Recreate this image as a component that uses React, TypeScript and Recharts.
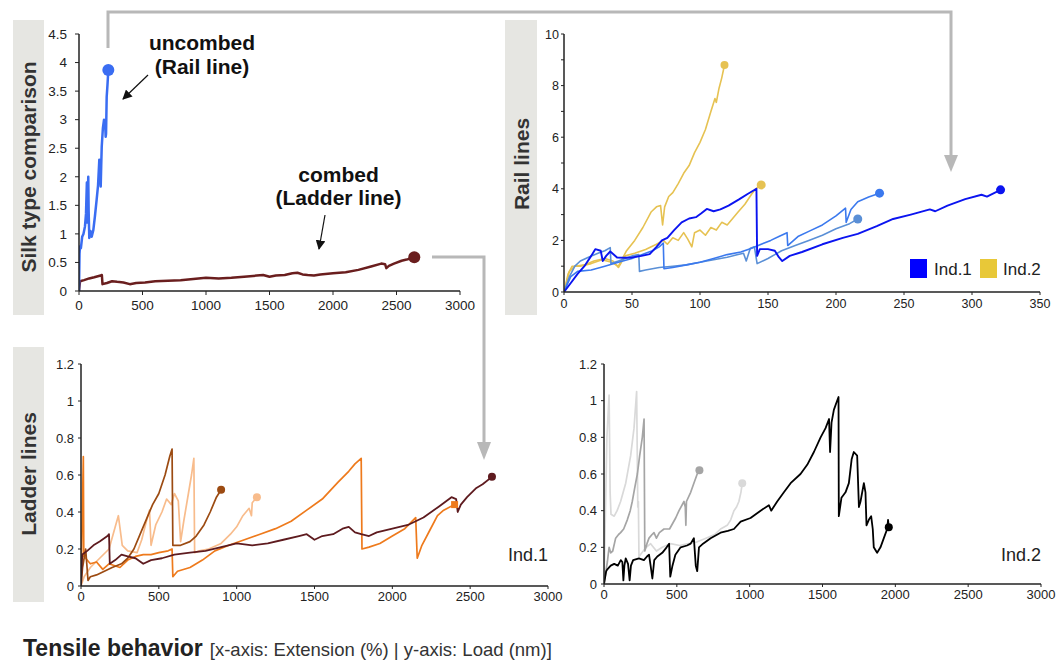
import React from 'react';
import { LineChart, Line, XAxis, YAxis } from 'recharts';

const FONT = '"Liberation Sans", Arial, Helvetica, sans-serif';

type Pt = [number, number];

// ---------- Panel 1: silk type comparison ----------
const silkXTicks = [0, 500, 1000, 1500, 2000, 2500, 3000];
const silkYTicks = [0, 0.5, 1, 1.5, 2, 2.5, 3, 3.5, 4, 4.5];
const uncombedRail: Pt[] = [
  [0, 0], [4, 0.65], [8, 0.78], [15, 0.75], [25, 0.95], [35, 1.0], [47, 1.13], [55, 1.35], [62, 1.9],
  [64, 1.2], [68, 1.5], [73, 2.0], [76, 1.4], [81, 0.93], [90, 1.05], [100, 0.95], [113, 1.07],
  [125, 1.3], [139, 1.6], [150, 1.85], [160, 2.3], [166, 2.1], [171, 1.83], [175, 2.2], [179, 2.53],
  [188, 2.85], [197, 3.0], [205, 2.95], [210, 2.7], [213, 2.75], [218, 3.4], [224, 3.6], [231, 3.87],
];

// ---------- Ladder lines Ind.1 (also "combed" in panel 1) ----------
const ladderXTicks = [0, 500, 1000, 1500, 2000, 2500, 3000];
const ladderYTicks = [0, 0.2, 0.4, 0.6, 0.8, 1, 1.2];
const ladderMaroon: Pt[] = [
  [0, 0], [8, 0.17], [40, 0.19], [80, 0.22], [120, 0.24], [170, 0.27], [180, 0.28], [185, 0.12],
  [220, 0.14], [260, 0.17], [300, 0.16], [350, 0.15], [400, 0.12], [450, 0.14], [520, 0.15],
  [600, 0.17], [700, 0.18], [800, 0.19], [900, 0.21], [1000, 0.23], [1100, 0.22], [1200, 0.23],
  [1300, 0.25], [1400, 0.27], [1450, 0.28], [1500, 0.25], [1550, 0.27], [1620, 0.28], [1680, 0.31],
  [1720, 0.32], [1760, 0.29], [1800, 0.28], [1850, 0.27], [1900, 0.29], [2000, 0.31], [2100, 0.33],
  [2200, 0.37], [2300, 0.43], [2380, 0.48], [2410, 0.47], [2420, 0.4], [2440, 0.44], [2480, 0.48],
  [2540, 0.53], [2580, 0.55], [2640, 0.59],
];
const ladderBrown: Pt[] = [
  [0, 0], [10, 0.1], [30, 0.2], [45, 0.03], [60, 0.05], [100, 0.06], [150, 0.08], [200, 0.1],
  [260, 0.12], [300, 0.15], [340, 0.2], [380, 0.28], [420, 0.36], [460, 0.44], [500, 0.5],
  [540, 0.6], [570, 0.7], [585, 0.74], [590, 0.22], [640, 0.22], [700, 0.24], [740, 0.27],
  [790, 0.33], [830, 0.4], [870, 0.48], [900, 0.52],
];
const ladderPeach: Pt[] = [
  [0, 0], [20, 0.05], [60, 0.1], [120, 0.15], [180, 0.2], [220, 0.32], [240, 0.38], [265, 0.22],
  [300, 0.19], [360, 0.18], [390, 0.25], [420, 0.35], [440, 0.41], [450, 0.22], [480, 0.33],
  [520, 0.4], [550, 0.47], [580, 0.44], [600, 0.5], [625, 0.46], [640, 0.24], [660, 0.35],
  [690, 0.5], [710, 0.6], [725, 0.69], [730, 0.18], [760, 0.19], [820, 0.2], [900, 0.23],
  [960, 0.28], [1000, 0.32], [1040, 0.38], [1080, 0.42], [1095, 0.38], [1100, 0.45], [1130, 0.48],
];
const ladderOrange: Pt[] = [
  [0, 0], [15, 0.7], [18, 0.16], [30, 0.15], [60, 0.12], [100, 0.13], [140, 0.09], [180, 0.12],
  [250, 0.1], [300, 0.14], [350, 0.16], [400, 0.17], [450, 0.17], [500, 0.18], [560, 0.19],
  [585, 0.2], [590, 0.05], [620, 0.08], [700, 0.1], [780, 0.14], [860, 0.19], [950, 0.22],
  [1050, 0.25], [1150, 0.28], [1250, 0.31], [1350, 0.35], [1450, 0.41], [1550, 0.47], [1650, 0.56],
  [1720, 0.62], [1760, 0.66], [1800, 0.69], [1805, 0.2], [1850, 0.21], [1920, 0.23], [2000, 0.27],
  [2080, 0.31], [2150, 0.37], [2160, 0.15], [2190, 0.22], [2240, 0.3], [2290, 0.38], [2330, 0.41],
  [2400, 0.44],
];

// ---------- Ladder lines Ind.2 ----------
const ind2Black: Pt[] = [
  [0, 0], [15, 0.07], [23, 0.08], [46, 0.1], [70, 0.11], [95, 0.1], [115, 0.13], [126, 0.12],
  [133, 0.02], [140, 0.1], [149, 0.14], [165, 0.11], [176, 0.02], [185, 0.1], [200, 0.13],
  [240, 0.14], [274, 0.13], [295, 0.15], [309, 0.16], [320, 0.1], [332, 0.03], [345, 0.13],
  [366, 0.15], [400, 0.17], [430, 0.2], [447, 0.22], [455, 0.04], [470, 0.1], [490, 0.16],
  [526, 0.2], [570, 0.21], [595, 0.22], [617, 0.25], [630, 0.1], [640, 0.07], [652, 0.2],
  [680, 0.22], [732, 0.25], [800, 0.28], [850, 0.29], [892, 0.3], [938, 0.34], [1006, 0.36],
  [1075, 0.4], [1132, 0.43], [1148, 0.4], [1189, 0.45], [1235, 0.5], [1281, 0.55], [1349, 0.6],
  [1395, 0.65], [1441, 0.72], [1487, 0.8], [1521, 0.85], [1545, 0.9], [1552, 0.72], [1562, 0.88],
  [1578, 0.95], [1596, 0.99], [1610, 1.02], [1612, 0.37], [1630, 0.47], [1658, 0.5], [1681, 0.55],
  [1700, 0.68], [1715, 0.72], [1738, 0.7], [1750, 0.42], [1761, 0.45], [1784, 0.55], [1795, 0.5],
  [1802, 0.32], [1818, 0.35], [1834, 0.37], [1845, 0.3], [1852, 0.2], [1875, 0.17], [1898, 0.2],
  [1921, 0.25], [1944, 0.3], [1950, 0.35], [1955, 0.31],
];
const ind2Gray: Pt[] = [
  [0, 0], [15, 0.08], [23, 0.12], [35, 0.2], [46, 0.17], [60, 0.18], [80, 0.25], [100, 0.27],
  [114, 0.28], [135, 0.3], [160, 0.35], [180, 0.4], [194, 0.45], [210, 0.52], [229, 0.6],
  [245, 0.7], [263, 0.8], [275, 0.9], [280, 0.18], [295, 0.22], [309, 0.25], [330, 0.27],
  [343, 0.28], [360, 0.25], [380, 0.28], [412, 0.3], [450, 0.3], [492, 0.36], [515, 0.4],
  [549, 0.45], [558, 0.42], [562, 0.32], [566, 0.45], [595, 0.5], [617, 0.55], [640, 0.6],
  [655, 0.62],
];
const ind2Light: Pt[] = [
  [0, 0], [10, 0.4], [20, 0.8], [35, 1.03], [42, 0.5], [48, 0.38], [70, 0.37], [90, 0.4],
  [114, 0.45], [149, 0.55], [183, 0.7], [206, 0.85], [224, 1.05], [232, 0.42], [236, 0.45],
  [240, 0.15], [260, 0.17], [290, 0.2], [320, 0.22], [360, 0.18], [400, 0.2], [457, 0.22],
  [520, 0.21], [580, 0.22], [640, 0.23], [700, 0.25], [760, 0.27], [800, 0.3], [846, 0.32],
  [870, 0.35], [892, 0.4], [910, 0.42], [926, 0.45], [940, 0.5], [949, 0.55],
];

// ---------- Rail lines ----------
const railXTicks = [0, 50, 100, 150, 200, 250, 300, 350];
const railYTicks = [0, 1, 2, 3, 4, 5, 6, 7, 8, 9, 10];
const railYellowTall: Pt[] = [
  [0, 0], [3, 0.7], [6, 1.0], [12, 1.0], [20, 1.1], [28, 1.25], [35, 1.15], [40, 1.0], [43, 1.3],
  [46, 1.6], [52, 2.0], [58, 2.5], [64, 3.1], [68, 3.3], [71, 3.35], [72.5, 2.6], [74, 3.3],
  [77, 3.7], [80, 3.85], [84, 4.2], [88, 4.6], [92, 4.9], [96, 5.4], [100, 5.8], [104, 6.3],
  [108, 7.0], [111, 7.5], [112, 7.35], [114, 7.9], [116, 8.3], [118, 8.8],
];
const railYellowShort: Pt[] = [
  [0, 0], [4, 0.8], [8, 1.0], [15, 1.05], [22, 1.2], [30, 1.3], [36, 1.2], [40, 0.95], [45, 1.4],
  [52, 1.5], [60, 1.65], [68, 1.85], [73, 2.0], [76, 1.85], [80, 2.1], [84, 2.0], [88, 2.3],
  [91, 2.05], [94, 1.75], [96, 2.3], [100, 2.4], [104, 2.2], [108, 2.5], [112, 2.4], [116, 2.7],
  [120, 2.6], [124, 2.85], [128, 3.1], [133, 3.4], [138, 3.8], [141, 4.0], [145, 4.15],
];
const railSteel: Pt[] = [
  [0, 0], [4, 0.6], [8, 1.0], [12, 1.2], [18, 1.35], [25, 1.5], [30, 1.6], [34, 1.72], [34.5, 1.1],
  [40, 1.2], [45, 1.3], [50, 1.4], [55, 1.45], [55.5, 0.8], [60, 0.85], [65, 0.9], [70, 0.95],
  [80, 1.0], [90, 1.05], [100, 1.15], [110, 1.25], [120, 1.35], [128, 1.45], [132, 1.5], [134, 1.2],
  [137, 1.7], [140, 1.75], [142, 1.1], [150, 1.3], [155, 1.45], [160, 1.6], [170, 1.8], [180, 2.0],
  [190, 2.2], [200, 2.45], [210, 2.65], [216, 2.83],
];
const railMedium: Pt[] = [
  [0, 0], [5, 0.6], [10, 0.8], [20, 0.85], [30, 1.0], [40, 1.15], [50, 1.3], [60, 1.5], [65, 1.6],
  [70, 1.75], [73, 1.9], [73.5, 0.9], [80, 0.95], [90, 1.05], [100, 1.15], [110, 1.3], [120, 1.45],
  [130, 1.55], [138, 1.7], [145, 1.85], [152, 2.0], [158, 2.15], [164, 2.3], [164.5, 1.8],
  [172, 2.15], [180, 2.35], [190, 2.6], [200, 2.95], [207, 3.25], [207.5, 2.7], [211, 3.2],
  [216, 3.5], [224, 3.68], [232, 3.83],
];
const railDark: Pt[] = [
  [0, 0], [5, 0.35], [10, 0.7], [15, 1.0], [20, 1.4], [23, 1.66], [27, 1.6], [28.5, 1.2], [31, 1.4],
  [34, 1.57], [39, 1.34], [45, 1.33], [50, 1.34], [57, 1.4], [63, 1.47], [68, 1.75], [72, 2.0],
  [76, 2.1], [81, 2.4], [86.5, 2.7], [92, 2.85], [97, 2.9], [101, 3.05], [105, 3.22], [110, 3.13],
  [115, 3.2], [121, 3.35], [129, 3.6], [135, 3.8], [141.5, 4.0], [142, 1.4], [144, 1.66],
  [150, 1.66], [155, 1.6], [158, 1.35], [160.5, 1.2], [166, 1.4], [175, 1.55], [190, 1.85],
  [205, 2.1], [216, 2.25], [230, 2.55], [242, 2.83], [255, 3.0], [269, 3.2], [273, 3.13],
  [282, 3.35], [295, 3.6], [307, 3.77], [311, 3.7], [321, 3.96],
];

const toPts = (arr: Pt[]) => arr.map(([x, y]) => ({ x, y }));

const endMarker = (len: number, color: string, r: number, square = false) => (props: any) => {
  const { cx, cy, index } = props;
  if (index !== len - 1 || cx == null || cy == null) return <g key={`e${index}`} />;
  if (square) {
    return <rect key={`e${index}`} x={cx - r} y={cy - r} width={2 * r} height={2 * r} fill={color} />;
  }
  return <circle key={`e${index}`} cx={cx} cy={cy} r={r} fill={color} />;
};

const axisLine = { stroke: '#222', strokeWidth: 1.5 };
const tickLine = { stroke: '#222', strokeWidth: 1 };
const tickStyle = (size: number) => ({ fill: '#222', fontSize: size, fontFamily: FONT });

type Series = { data: Pt[]; color: string; width: number; r: number; square?: boolean };

const renderLines = (series: Series[]) =>
  series.map((s, i) => (
    <Line
      key={i}
      data={toPts(s.data)}
      dataKey="y"
      type="linear"
      stroke={s.color}
      strokeWidth={s.width}
      dot={endMarker(s.data.length, s.color, s.r, s.square)}
      activeDot={false}
      isAnimationActive={false}
      strokeLinejoin="round"
    />
  ));

const railEvenTick = (props: any) => {
  const { x, y, payload } = props;
  if (payload.value % 2 !== 0) return <g />;
  return (
    <text x={x} y={y} dy={4.5} textAnchor="end" fontSize={12.5} fill="#222" fontFamily={FONT}>
      {payload.value}
    </text>
  );
};

export default function App() {
  const grayBox = '#e6e6e2';
  const conn = '#b8b8b8';
  return (
    <div style={{ position: 'absolute', left: 0, top: 0, width: 1061, height: 661, background: '#fff', fontFamily: FONT }}>
      {/* background boxes and vertical labels */}
      <svg width={1061} height={661} style={{ position: 'absolute', left: 0, top: 0 }}>
        <rect x={13} y={20} width={31} height={295} fill={grayBox} />
        <rect x={505} y={20} width={32} height={295} fill={grayBox} />
        <rect x={13} y={347} width={31} height={255} fill={grayBox} />
        <text transform="translate(36,167) rotate(-90)" textAnchor="middle" fontSize={21} fontWeight="bold" fill="#333" fontFamily={FONT}>
          Silk type comparison
        </text>
        <text transform="translate(528.5,164) rotate(-90)" textAnchor="middle" fontSize={21} fontWeight="bold" fill="#333" fontFamily={FONT}>
          Rail lines
        </text>
        <text transform="translate(36,474) rotate(-90)" textAnchor="middle" fontSize={21} fontWeight="bold" fill="#333" fontFamily={FONT}>
          Ladder lines
        </text>
      </svg>

      {/* Panel 1 */}
      <div style={{ position: 'absolute', left: 0, top: 0 }}>
        <LineChart width={480} height={320} margin={{ top: 34, right: 20, bottom: 5, left: 0 }}>
          <XAxis type="number" dataKey="x" domain={[0, 3000]} ticks={silkXTicks} height={24} axisLine={axisLine}
            tickLine={tickLine} tickSize={4} tickMargin={5} tick={tickStyle(13.5)} allowDataOverflow />
          <YAxis type="number" domain={[0, 4.5]} ticks={silkYTicks} width={79} axisLine={axisLine}
            tickLine={tickLine} tickSize={4} tickMargin={8} tick={tickStyle(13.5)} allowDataOverflow />
          {renderLines([
            { data: ladderMaroon, color: '#6a1e1e', width: 2.5, r: 6 },
            { data: uncombedRail, color: '#3a6df2', width: 2.5, r: 6 },
          ])}
        </LineChart>
      </div>

      {/* Panel 2 */}
      <div style={{ position: 'absolute', left: 500, top: 0 }}>
        <LineChart width={560} height={320} margin={{ top: 34, right: 20, bottom: 4, left: 0 }}>
          <XAxis type="number" dataKey="x" domain={[0, 350]} ticks={railXTicks} height={24} axisLine={axisLine}
            tickLine={tickLine} tickSize={3} tickMargin={4} tick={tickStyle(12.5)} allowDataOverflow />
          <YAxis type="number" domain={[0, 10]} ticks={railYTicks} width={64} axisLine={axisLine}
            tickLine={tickLine} tickSize={3} tickMargin={2} tick={railEvenTick} interval={0} allowDataOverflow />
          {renderLines([
            { data: railYellowTall, color: '#e6c252', width: 1.6, r: 4 },
            { data: railYellowShort, color: '#e6c252', width: 1.6, r: 4.5 },
            { data: railSteel, color: '#5a8fd6', width: 1.6, r: 4.5 },
            { data: railMedium, color: '#3b79ee', width: 1.6, r: 4.5 },
            { data: railDark, color: '#0b14f0', width: 1.9, r: 4.5 },
          ])}
        </LineChart>
      </div>

      {/* Panel 3 */}
      <div style={{ position: 'absolute', left: 0, top: 340 }}>
        <LineChart width={570} height={270} margin={{ top: 24, right: 22, bottom: 4, left: 0 }}>
          <XAxis type="number" dataKey="x" domain={[0, 3000]} ticks={ladderXTicks} height={20} axisLine={axisLine}
            tickLine={tickLine} tickSize={3} tickMargin={3} tick={tickStyle(13)} allowDataOverflow />
          <YAxis type="number" domain={[0, 1.2]} ticks={ladderYTicks} width={81} axisLine={axisLine}
            tickLine={tickLine} tickSize={3} tickMargin={4} tick={tickStyle(13)} allowDataOverflow />
          {renderLines([
            { data: ladderPeach, color: '#f8bc8c', width: 1.7, r: 4 },
            { data: ladderOrange, color: '#ee7a1c', width: 1.7, r: 3.5, square: true },
            { data: ladderBrown, color: '#9c4b12', width: 1.7, r: 4 },
            { data: ladderMaroon, color: '#5e1b1f', width: 1.8, r: 4 },
          ])}
        </LineChart>
      </div>

      {/* Panel 4 */}
      <div style={{ position: 'absolute', left: 560, top: 340 }}>
        <LineChart width={500} height={270} margin={{ top: 24, right: 19, bottom: 4, left: 0 }}>
          <XAxis type="number" dataKey="x" domain={[0, 3000]} ticks={ladderXTicks} height={22} axisLine={axisLine}
            tickLine={tickLine} tickSize={3} tickMargin={3} tick={tickStyle(13)} allowDataOverflow />
          <YAxis type="number" domain={[0, 1.2]} ticks={ladderYTicks} width={44} axisLine={axisLine}
            tickLine={tickLine} tickSize={3} tickMargin={4} tick={tickStyle(13)} allowDataOverflow />
          {renderLines([
            { data: ind2Light, color: '#d9d9d9', width: 1.7, r: 4 },
            { data: ind2Gray, color: '#a5a5a5', width: 1.7, r: 4 },
            { data: ind2Black, color: '#000000', width: 1.8, r: 4 },
          ])}
        </LineChart>
      </div>

      {/* overlay: connectors, annotations, legends, title */}
      <svg width={1061} height={661} style={{ position: 'absolute', left: 0, top: 0, pointerEvents: 'none' }}>
        <defs>
          <marker id="blackArrow" viewBox="0 0 10 10" refX="9" refY="5" markerWidth="8" markerHeight="8" orient="auto-start-reverse">
            <path d="M0,0 L10,5 L0,10 z" fill="#111" />
          </marker>
        </defs>
        <polyline points="108,48 108,12 951,12 951,156" fill="none" stroke={conn} strokeWidth={3} />
        <polygon points="944,155 958,155 951,172" fill={conn} />
        <polyline points="432,257 484,257 484,444" fill="none" stroke={conn} strokeWidth={3} />
        <polygon points="477,442 491,442 484,460" fill={conn} />

        <text x={202} y={50} textAnchor="middle" fontSize={21} fontWeight="bold" fill="#111" fontFamily={FONT}>uncombed</text>
        <text x={202} y={74} textAnchor="middle" fontSize={21} fontWeight="bold" fill="#111" fontFamily={FONT}>(Rail line)</text>
        <line x1={148} y1={75} x2={123} y2={99} stroke="#111" strokeWidth={1.2} markerEnd="url(#blackArrow)" />
        <text x={338.5} y={182} textAnchor="middle" fontSize={21} fontWeight="bold" fill="#111" fontFamily={FONT}>combed</text>
        <text x={338.5} y={205} textAnchor="middle" fontSize={21} fontWeight="bold" fill="#111" fontFamily={FONT}>(Ladder line)</text>
        <line x1={325} y1={215} x2={319} y2={249} stroke="#111" strokeWidth={1.2} markerEnd="url(#blackArrow)" />

        <rect x={910} y={259} width={17} height={19} fill="#0000ff" />
        <text x={934} y={275} fontSize={17} fill="#222" fontFamily={FONT}>Ind.1</text>
        <rect x={980} y={259} width={17} height={19} fill="#e8c838" />
        <text x={1003} y={275} fontSize={17} fill="#222" fontFamily={FONT}>Ind.2</text>

        <text x={548} y={561} textAnchor="end" fontSize={18} fill="#222" fontFamily={FONT}>Ind.1</text>
        <text x={1041} y={561} textAnchor="end" fontSize={18} fill="#222" fontFamily={FONT}>Ind.2</text>

        <text x={23} y={656} fontFamily={FONT} fill="#222">
          <tspan fontSize={23} fontWeight="bold">Tensile behavior</tspan>
          <tspan fontSize={18.5} fill="#333" dx={7}>[x-axis: Extension (%) | y-axis: Load (nm)]</tspan>
        </text>
      </svg>
    </div>
  );
}
